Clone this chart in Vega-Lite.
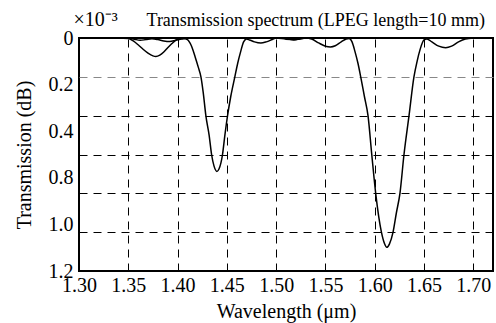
{
  "$schema": "https://vega.github.io/schema/vega-lite/v6.json",
  "width": 414,
  "height": 233,
  "autosize": {"type": "none"},
  "padding": {"left": 79, "top": 38, "right": 3, "bottom": 52},
  "background": "white",
  "config": {
    "font": "Liberation Serif",
    "view": {"stroke": "black", "strokeWidth": 2},
    "style": {"guide-label": {"font": "Liberation Serif"}, "guide-title": {"font": "Liberation Serif"}},
    "axis": {"labelFont": "Liberation Serif", "titleFont": "Liberation Serif", "labelColor": "black", "titleColor": "black", "titleFontWeight": "normal"}
  },
  "title": {
    "text": "Transmission spectrum (LPEG length=10 mm)",
    "anchor": "end",
    "dx": -8,
    "dy": 31,
    "offset": 10,
    "font": "Liberation Serif",
    "fontSize": 18,
    "fontWeight": "normal",
    "color": "black"
  },
  "data": {
    "values": [
      {"series": "A", "wavelength": 1.300, "transmission": 0},
      {"series": "A", "wavelength": 1.340, "transmission": 0},
      {"series": "A", "wavelength": 1.350, "transmission": 0.002},
      {"series": "A", "wavelength": 1.355, "transmission": 0.015},
      {"series": "A", "wavelength": 1.360, "transmission": 0.035},
      {"series": "A", "wavelength": 1.365, "transmission": 0.058},
      {"series": "A", "wavelength": 1.370, "transmission": 0.078},
      {"series": "A", "wavelength": 1.375, "transmission": 0.092},
      {"series": "A", "wavelength": 1.378, "transmission": 0.095},
      {"series": "A", "wavelength": 1.382, "transmission": 0.088},
      {"series": "A", "wavelength": 1.386, "transmission": 0.072},
      {"series": "A", "wavelength": 1.390, "transmission": 0.050},
      {"series": "A", "wavelength": 1.394, "transmission": 0.030},
      {"series": "A", "wavelength": 1.398, "transmission": 0.012},
      {"series": "A", "wavelength": 1.402, "transmission": 0.003},
      {"series": "A", "wavelength": 1.406, "transmission": 0.002},
      {"series": "A", "wavelength": 1.410, "transmission": 0.008},
      {"series": "A", "wavelength": 1.414, "transmission": 0.04},
      {"series": "A", "wavelength": 1.418, "transmission": 0.10},
      {"series": "A", "wavelength": 1.421, "transmission": 0.15},
      {"series": "A", "wavelength": 1.4237, "transmission": 0.20},
      {"series": "A", "wavelength": 1.426, "transmission": 0.28},
      {"series": "A", "wavelength": 1.4287, "transmission": 0.40},
      {"series": "A", "wavelength": 1.432, "transmission": 0.50},
      {"series": "A", "wavelength": 1.4345, "transmission": 0.60},
      {"series": "A", "wavelength": 1.437, "transmission": 0.66},
      {"series": "A", "wavelength": 1.440, "transmission": 0.687},
      {"series": "A", "wavelength": 1.442, "transmission": 0.675},
      {"series": "A", "wavelength": 1.4456, "transmission": 0.60},
      {"series": "A", "wavelength": 1.448, "transmission": 0.50},
      {"series": "A", "wavelength": 1.4507, "transmission": 0.40},
      {"series": "A", "wavelength": 1.454, "transmission": 0.30},
      {"series": "A", "wavelength": 1.4581, "transmission": 0.20},
      {"series": "A", "wavelength": 1.461, "transmission": 0.13},
      {"series": "A", "wavelength": 1.464, "transmission": 0.07},
      {"series": "A", "wavelength": 1.467, "transmission": 0.02},
      {"series": "A", "wavelength": 1.470, "transmission": 0.005},
      {"series": "A", "wavelength": 1.473, "transmission": 0.01},
      {"series": "A", "wavelength": 1.478, "transmission": 0.02},
      {"series": "A", "wavelength": 1.4845, "transmission": 0.026},
      {"series": "A", "wavelength": 1.490, "transmission": 0.02},
      {"series": "A", "wavelength": 1.496, "transmission": 0.008},
      {"series": "A", "wavelength": 1.500, "transmission": 0.0},
      {"series": "A", "wavelength": 1.506, "transmission": 0.0},
      {"series": "A", "wavelength": 1.512, "transmission": 0.005},
      {"series": "A", "wavelength": 1.518, "transmission": 0.01},
      {"series": "A", "wavelength": 1.524, "transmission": 0.005},
      {"series": "A", "wavelength": 1.530, "transmission": 0.0},
      {"series": "A", "wavelength": 1.536, "transmission": 0.005},
      {"series": "A", "wavelength": 1.543, "transmission": 0.025},
      {"series": "A", "wavelength": 1.550, "transmission": 0.042},
      {"series": "A", "wavelength": 1.555, "transmission": 0.046},
      {"series": "A", "wavelength": 1.560, "transmission": 0.04},
      {"series": "A", "wavelength": 1.566, "transmission": 0.02},
      {"series": "A", "wavelength": 1.571, "transmission": 0.005},
      {"series": "A", "wavelength": 1.574, "transmission": 0.002},
      {"series": "A", "wavelength": 1.577, "transmission": 0.02},
      {"series": "A", "wavelength": 1.580, "transmission": 0.07},
      {"series": "A", "wavelength": 1.583, "transmission": 0.13},
      {"series": "A", "wavelength": 1.5858, "transmission": 0.20},
      {"series": "A", "wavelength": 1.5895, "transmission": 0.30},
      {"series": "A", "wavelength": 1.5932, "transmission": 0.40},
      {"series": "A", "wavelength": 1.597, "transmission": 0.60},
      {"series": "A", "wavelength": 1.601, "transmission": 0.80},
      {"series": "A", "wavelength": 1.6068, "transmission": 1.00},
      {"series": "A", "wavelength": 1.610, "transmission": 1.06},
      {"series": "A", "wavelength": 1.6122, "transmission": 1.078},
      {"series": "A", "wavelength": 1.615, "transmission": 1.06},
      {"series": "A", "wavelength": 1.6186, "transmission": 1.00},
      {"series": "A", "wavelength": 1.622, "transmission": 0.90},
      {"series": "A", "wavelength": 1.6256, "transmission": 0.80},
      {"series": "A", "wavelength": 1.6297, "transmission": 0.60},
      {"series": "A", "wavelength": 1.6348, "transmission": 0.40},
      {"series": "A", "wavelength": 1.6398, "transmission": 0.20},
      {"series": "A", "wavelength": 1.643, "transmission": 0.12},
      {"series": "A", "wavelength": 1.646, "transmission": 0.06},
      {"series": "A", "wavelength": 1.650, "transmission": 0.01},
      {"series": "A", "wavelength": 1.653, "transmission": 0.005},
      {"series": "A", "wavelength": 1.658, "transmission": 0.02},
      {"series": "A", "wavelength": 1.665, "transmission": 0.042},
      {"series": "A", "wavelength": 1.672, "transmission": 0.05},
      {"series": "A", "wavelength": 1.678, "transmission": 0.042},
      {"series": "A", "wavelength": 1.685, "transmission": 0.02},
      {"series": "A", "wavelength": 1.692, "transmission": 0.005},
      {"series": "A", "wavelength": 1.700, "transmission": 0.0},
      {"series": "B", "wavelength": 1.300, "transmission": 0},
      {"series": "B", "wavelength": 1.350, "transmission": 0},
      {"series": "B", "wavelength": 1.356, "transmission": 0.006},
      {"series": "B", "wavelength": 1.362, "transmission": 0.012},
      {"series": "B", "wavelength": 1.368, "transmission": 0.008},
      {"series": "B", "wavelength": 1.374, "transmission": 0.004},
      {"series": "B", "wavelength": 1.380, "transmission": 0.008},
      {"series": "B", "wavelength": 1.386, "transmission": 0.015},
      {"series": "B", "wavelength": 1.392, "transmission": 0.018},
      {"series": "B", "wavelength": 1.398, "transmission": 0.012},
      {"series": "B", "wavelength": 1.404, "transmission": 0.005},
      {"series": "B", "wavelength": 1.410, "transmission": 0.0},
      {"series": "B", "wavelength": 1.500, "transmission": 0.0},
      {"series": "B", "wavelength": 1.510, "transmission": 0.006},
      {"series": "B", "wavelength": 1.520, "transmission": 0.008},
      {"series": "B", "wavelength": 1.530, "transmission": 0.0},
      {"series": "B", "wavelength": 1.700, "transmission": 0.0}
    ]
  },
  "layer": [
    {
      "mark": {"type": "line", "color": "black", "strokeWidth": 1.5, "interpolate": "monotone", "clip": true},
      "encoding": {
        "x": {
          "field": "wavelength", "type": "quantitative",
          "scale": {"domain": [1.30, 1.72], "nice": false, "zero": false},
          "axis": {
            "title": "Wavelength (μm)",
            "titleFont": "Liberation Serif",
            "titleFontSize": 20,
            "titlePadding": 6,
            "values": [1.30, 1.35, 1.40, 1.45, 1.50, 1.55, 1.60, 1.65, 1.70],
            "format": ".2f",
            "labelFont": "Liberation Serif",
            "labelFontSize": 20,
            "labelPadding": 4,
            "labelFlush": false,
            "labelOverlap": false,
            "ticks": false,
            "domain": false,
            "grid": true,
            "gridColor": "black",
            "gridWidth": 1,
            "gridDash": [8, 6]
          }
        },
        "y": {
          "field": "transmission", "type": "quantitative",
          "scale": {"domain": [0, 1.2], "nice": false, "zero": false, "reverse": true},
          "axis": {
            "orient": "left",
            "title": "Transmission (dB)",
            "titleFont": "Liberation Serif",
            "titleFontSize": 20,
            "titlePadding": 14,
            "values": [0, 0.24, 0.48, 0.72, 0.96, 1.2],
            "labelExpr": "datum.index == 0 ? '0' : datum.index < 0.3 ? '0.2' : datum.index < 0.5 ? '0.4' : datum.index < 0.7 ? '0.8' : datum.index < 0.9 ? '1.0' : '1.2'",
            "labelFont": "Liberation Serif",
            "labelFontSize": 20,
            "labelPadding": 6,
            "labelFlush": false,
            "labelOverlap": false,
            "ticks": false,
            "domain": false,
            "grid": false
          }
        },
        "detail": {"field": "series", "type": "nominal"}
      }
    },
    {
      "mark": {"type": "line", "opacity": 0},
      "encoding": {
        "x": {"field": "wavelength", "type": "quantitative"},
        "y": {
          "field": "transmission", "type": "quantitative",
          "axis": {
            "orient": "right",
            "title": "×10⁻³",
            "titleFont": "Liberation Serif",
            "titleAngle": 0,
            "titleX": -420,
            "titleY": -13,
            "titleAlign": "left",
            "titleBaseline": "alphabetic",
            "titleFontSize": 20,
            "values": [0, 0.2, 0.4, 0.6, 0.8, 1.0, 1.2],
            "labels": false,
            "ticks": false,
            "domain": false,
            "grid": true,
            "gridColor": {"condition": {"test": "datum.value === 0.2", "value": "#888888"}, "value": "black"},
            "gridWidth": 1,
            "gridDash": [8, 6]
          }
        },
        "detail": {"field": "series", "type": "nominal"}
      }
    }
  ],
  "resolve": {"axis": {"y": "independent"}}
}
